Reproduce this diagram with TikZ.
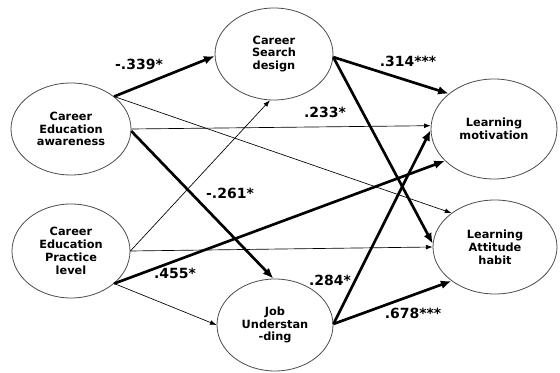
\documentclass[tikz,border=0pt]{standalone}
\usepackage{fontspec}
\setmainfont{DejaVu Sans}
\usetikzlibrary{shapes.geometric,arrows.meta}
\begin{document}
\begin{tikzpicture}[x=0.75pt,y=-0.75pt,
  var/.style={ellipse,draw=black!70,line width=0.6pt,inner sep=0pt,align=center,
    font=\bfseries\fontsize{8.5}{9.6}\selectfont},
  arrthin/.style={-{Latex[length=5pt,width=3.6pt]},line width=0.5pt},
  arrthick/.style={-{Latex[length=8pt,width=6.5pt]},line width=2pt},
  lbl/.style={font=\bfseries\fontsize{10.5}{12}\selectfont,inner sep=0pt}]
\useasboundingbox[fill=white] (0,0) rectangle (560,373);
% variables
\node[var,minimum width=90pt,minimum height=69pt] (cea) at (71,129) {Career\\Education\\awareness};
\node[var,minimum width=88.5pt,minimum height=69pt] (csd) at (274,54) {Career\\Search\\design};
\node[var,minimum width=94.5pt,minimum height=75pt] (lm) at (494,129) {Learning\\motivation};
\node[var,minimum width=93pt,minimum height=70.5pt] (lah) at (495,247) {Learning\\Attitude\\habit};
\node[var,minimum width=88.5pt,minimum height=70.5pt] (cepl) at (71,251) {Career\\Education\\Practice\\level};
\node[var,minimum width=87pt,minimum height=69pt] (ju) at (275,325) {Job\\Understan\\-ding};
% thin paths
\draw[arrthin] (cea.37) -- (lah.142);
\draw[arrthin] (cea.0) -- (lm.177);
\draw[arrthin] (cepl.0) -- (csd.265);
\draw[arrthin] (cepl.0) -- (lah.180);
\draw[arrthin] (cepl.-37) -- (ju.180);
% thick paths
\draw[arrthick] (cea.37) -- (csd.182);
\draw[arrthick] (cea.-2) -- (ju.92);
\draw[arrthick] (cepl.-37) -- (lm.213);
\draw[arrthick] (csd.-3) -- (lm.142);
\draw[arrthick] (csd.-3) -- (lah.177);
\draw[arrthick] (ju.1) -- (lm.181);
\draw[arrthick] (ju.1) -- (lah.218);
% labels
\node[lbl] (l1) at (139,64) {-.339*};
\node[lbl] (l2) at (408,61) {.314***};
\node[lbl] (l3) at (325,112) {.233*};
\node[lbl] (l4) at (230,193) {-.261*};
\node[lbl] (l5) at (175,273) {.455*};
\node[lbl] (l6) at (330,280) {.284*};
\node[lbl] (l7) at (413,313) {.678***};
\end{tikzpicture}
\end{document}
